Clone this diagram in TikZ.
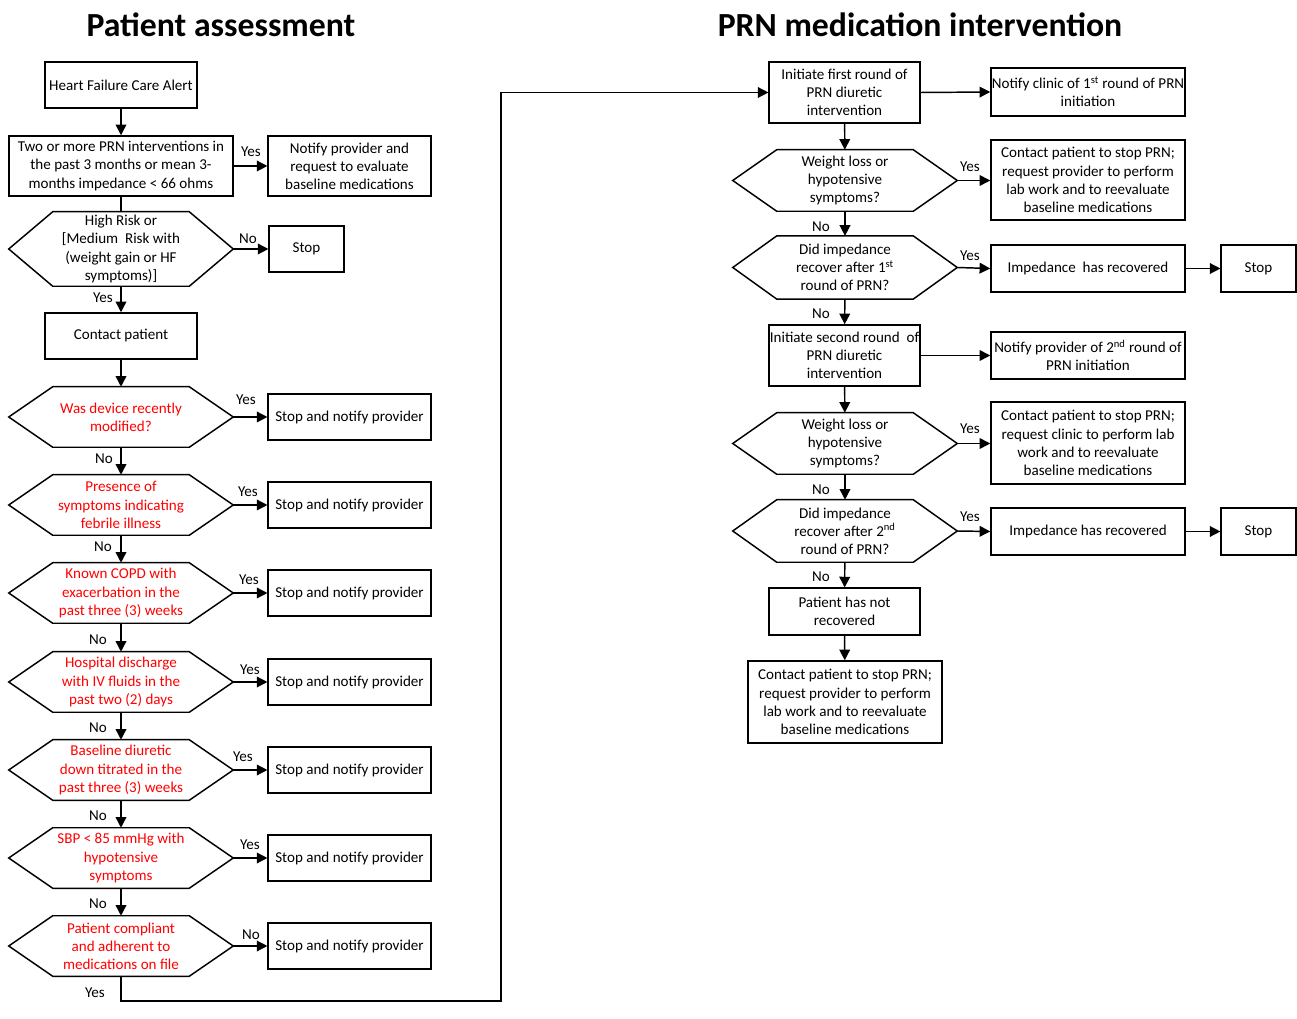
\documentclass[tikz,border=0pt]{standalone}
\usepackage{fontspec}
\setmainfont{Carlito}
\usetikzlibrary{arrows.meta}
\tikzset{
  every node/.style={font=\fontsize{11.3pt}{13.6pt}\selectfont},
  box/.style={draw, line width=1.1pt, inner sep=0pt, align=center},
  hexin/.style={inner sep=0pt, align=center, minimum width=168pt},
  redtxt/.style={text=red},
  line/.style={line width=1.1pt},
  arr/.style={line width=1.1pt, -{Triangle[length=8pt,width=8pt]}},
  lbl/.style={inner sep=0pt},
  ttl/.style={font=\fontsize{25.3pt}{30pt}\selectfont\bfseries}
}
\newcommand\hexnode[6]{%
  \node[hexin, minimum height=#6, #5] (#1) at (#2,#3) {#4};
  \draw[line] (#1.west) -- ([xshift=33pt]#1.north west) -- ([xshift=-33pt]#1.north east) -- (#1.east) -- ([xshift=-33pt]#1.south east) -- ([xshift=33pt]#1.south west) -- cycle;}
\begin{document}
\begin{tikzpicture}[x=0.75pt,y=-0.75pt]
\useasboundingbox (0,0) rectangle (1297,1019);
% titles
\node[ttl] (t1) at (221,25) {Patient assessment};
\node[ttl] (t2) at (920,25) {PRN medication intervention};
% left column
\node[box, minimum width=114pt, minimum height=34.5pt] (alert) at (121,85) {Heart Failure Care Alert};
\node[box, minimum width=168pt, minimum height=45pt] (two) at (121,166) {Two or more PRN interventions in\\the past 3 months or mean 3-\\months impedance < 66 ohms};
\node[box, minimum width=122pt, minimum height=45pt] (notify) at (349.5,166) {Notify provider and\\request to evaluate\\baseline medications};
\hexnode{h1}{121}{249}{High Risk or\\{[}Medium\ \ Risk with\\(weight gain or HF\\symptoms)]}{}{55.5pt}
\node[box, minimum width=56pt, minimum height=34.5pt] (stop0) at (306.5,249) {Stop};
\node[box, minimum width=114pt, minimum height=34.5pt] (contact) at (121,336) {Contact patient};
\hexnode{h2}{121}{417}{Was device recently\\modified?}{redtxt}{45pt}
\hexnode{h3}{121}{505}{Presence of\\symptoms indicating\\febrile illness}{redtxt}{45pt}
\hexnode{h4}{121}{593}{Known COPD with\\exacerbation in the\\past three (3) weeks}{redtxt}{45pt}
\hexnode{h5}{121}{682}{Hospital discharge\\with IV fluids in the\\past two (2) days}{redtxt}{45pt}
\hexnode{h6}{121}{770}{Baseline diuretic\\down titrated in the\\past three (3) weeks}{redtxt}{45pt}
\hexnode{h7}{121}{858}{SBP < 85 mmHg with\\hypotensive\\symptoms}{redtxt}{45pt}
\hexnode{h8}{121}{946}{Patient compliant\\and adherent to\\medications on file}{redtxt}{45pt}
\foreach \i/\yy in {2/417,3/505,4/593,5/682,6/770,7/858,8/946}{
  \node[box, minimum width=122pt, minimum height=34.5pt] (s\i) at (349.5,\yy) {Stop and notify provider};
  \draw[arr] (h\i.east) -- (s\i.west);
}
\draw[arr] (alert) -- (two);
\draw[arr] (two) -- (notify);
\draw[line] (two.south) -- (h1.north);
\draw[arr] (h1) -- (stop0);
\draw[arr] (h1) -- (contact);
\draw[arr] (contact) -- (h2);
\draw[arr] (h2) -- (h3);
\draw[arr] (h3) -- (h4);
\draw[arr] (h4) -- (h5);
\draw[arr] (h5) -- (h6);
\draw[arr] (h6) -- (h7);
\draw[arr] (h7) -- (h8);
% left labels
\node[lbl] (l1) at (251,152) {Yes};
\node[lbl] (l2) at (248,239) {No};
\node[lbl] (l3) at (103,298) {Yes};
\node[lbl] (l4) at (246,400) {Yes};
\node[lbl] (l5) at (104,459) {No};
\node[lbl] (l6) at (248,492) {Yes};
\node[lbl] (l7) at (103,547) {No};
\node[lbl] (l8) at (249,580) {Yes};
\node[lbl] (l9) at (98,640) {No};
\node[lbl] (l10) at (250,670) {Yes};
\node[lbl] (l11) at (98,728) {No};
\node[lbl] (l12) at (243,757) {Yes};
\node[lbl] (l13) at (98,816) {No};
\node[lbl] (l14) at (250,845) {Yes};
\node[lbl] (l15) at (98,904) {No};
\node[lbl] (l16) at (251,935) {No};
\node[lbl] (l17) at (95,993) {Yes};
% right column
\node[box, minimum width=113pt, minimum height=45.75pt] (init1) at (844.5,92.5) {Initiate first round of\\PRN diuretic\\intervention};
\node[box, minimum width=145.5pt, minimum height=36pt] (nclin) at (1088,92) {Notify clinic of 1\textsuperscript{st} round of PRN\\initiation};
\hexnode{w1}{845}{180.5}{Weight loss or\\hypotensive\\symptoms?}{}{45.75pt}
\node[box, minimum width=145.5pt, minimum height=60pt] (c1) at (1088,180) {Contact patient to stop PRN;\\request provider to perform\\lab work and to reevaluate\\baseline medications};
\hexnode{d1}{845}{267.5}{Did impedance\\recover after 1\textsuperscript{st}\\round of PRN?}{}{47pt}
\node[box, minimum width=145.5pt, minimum height=35pt] (imp1) at (1088,268.5) {Impedance\ \ has recovered};
\node[box, minimum width=56pt, minimum height=35pt] (stA) at (1258.5,268.5) {Stop};
\node[box, minimum width=113pt, minimum height=45.75pt] (init2) at (844.5,355.5) {Initiate second round\ \ of\\PRN diuretic\\intervention};
\node[box, minimum width=145.5pt, minimum height=35pt] (nprov) at (1088,355.5) {Notify provider of 2\textsuperscript{nd} round of\\PRN initiation};
\hexnode{w2}{845}{443.5}{Weight loss or\\hypotensive\\symptoms?}{}{45.75pt}
\node[box, minimum width=145.5pt, minimum height=61.5pt] (c2) at (1088,443) {Contact patient to stop PRN;\\request clinic to perform lab\\work and to reevaluate\\baseline medications};
\hexnode{d2}{845}{531}{Did impedance\\recover after 2\textsuperscript{nd}\\round of PRN?}{}{46.5pt}
\node[box, minimum width=145.5pt, minimum height=35pt] (imp2) at (1088,531.5) {Impedance has recovered};
\node[box, minimum width=56pt, minimum height=35pt] (stB) at (1258.5,531.5) {Stop};
\node[box, minimum width=113pt, minimum height=35pt] (notrec) at (844.5,611.5) {Patient has not\\recovered};
\node[box, minimum width=145.5pt, minimum height=61.5pt] (final) at (845,702) {Contact patient to stop PRN;\\request provider to perform\\lab work and to reevaluate\\baseline medications};
\draw[arr] (init1.east) -- (nclin.west);
\draw[arr] (init1) -- (w1);
\draw[arr] (w1.east) -- (w1.east -| c1.west);
\draw[arr] (w1) -- (d1);
\draw[arr] (d1.east) -- (imp1.west);
\draw[arr] (imp1) -- (stA);
\draw[arr] (d1) -- (init2);
\draw[arr] (init2.east) -- (nprov.west);
\draw[arr] (init2) -- (w2);
\draw[arr] (w2.east) -- (w2.east -| c2.west);
\draw[arr] (w2) -- (d2);
\draw[arr] (d2.east) -- (imp2.west);
\draw[arr] (imp2) -- (stB);
\draw[arr] (d2) -- (notrec);
\draw[arr] (notrec) -- (final);
% right labels
\node[lbl] (r1) at (970,167) {Yes};
\node[lbl] (r2) at (821,227) {No};
\node[lbl] (r3) at (970,256) {Yes};
\node[lbl] (r4) at (821,314) {No};
\node[lbl] (r5) at (970,429) {Yes};
\node[lbl] (r6) at (821,490) {No};
\node[lbl] (r7) at (970,517) {Yes};
\node[lbl] (r8) at (821,577) {No};
% long connector
\coordinate (k1) at (121,1001);
\coordinate (k2) at (501,1001);
\draw[arr] (h8.south) -- (k1) -- (k2) |- (init1.west);
\end{tikzpicture}
\end{document}
